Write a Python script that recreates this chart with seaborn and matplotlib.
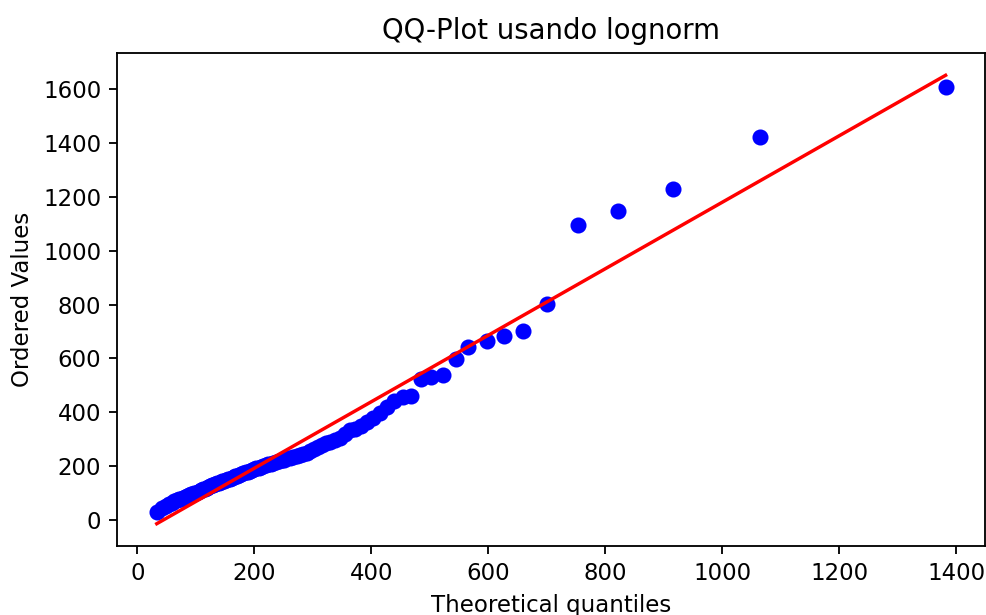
import numpy as np
import pandas as pd
import seaborn as sns
import matplotlib
matplotlib.use("Agg")
import matplotlib.pyplot as plt
from matplotlib.ticker import MultipleLocator

# cuantiles teóricos (lognorm) y valores ordenados
theoretical_quantiles = [
    33.0, 42.1, 48.8, 54.1, 58.7, 63.1, 67.0, 70.9, 74.4, 77.9,
    81.3, 84.6, 87.8, 91.0, 94.1, 97.1, 100.2, 103.2, 106.2, 109.2,
    112.2, 115.1, 118.1, 121.0, 124.0, 127.0, 130.0, 133.0, 136.0, 139.1,
    142.2, 145.2, 148.3, 151.4, 154.6, 157.8, 161.0, 164.3, 167.6, 171.0,
    174.3, 177.8, 181.3, 184.8, 188.4, 192.1, 195.8, 199.5, 203.4, 207.3,
    211.3, 215.4, 219.5, 223.8, 228.1, 232.5, 237.1, 241.7, 246.4, 251.3,
    256.3, 261.5, 266.8, 272.2, 277.8, 283.6, 289.5, 295.7, 302.0, 308.5,
    315.5, 322.6, 330.0, 337.7, 345.7, 354.1, 362.9, 372.0, 381.8, 391.9,
    402.8, 414.3, 426.4, 439.5, 453.4, 468.4, 484.8, 502.4, 521.9, 545.0,
    566.0, 597.0, 626.0, 660.0, 701.0, 754.0, 822.0, 915.0, 1065.0, 1382.0,
]
ordered_values = [
    28, 42, 52, 58, 63, 68, 72, 76, 79, 82,
    85, 88, 91, 94, 96, 99, 101, 104, 107, 110,
    113, 116, 119, 122, 125, 128, 131, 133, 136, 138,
    140, 143, 145, 148, 150, 152, 155, 158, 161, 164,
    167, 170, 173, 176, 179, 182, 185, 188, 191, 194,
    197, 200, 203, 206, 209, 212, 215, 218, 221, 224,
    228, 231, 234, 237, 240, 245, 250, 256, 262, 270,
    277, 284, 289, 295, 305, 318, 332, 338, 350, 365,
    378, 398, 420, 441, 456, 460, 522, 530, 537, 596,
    643, 665, 684, 702, 803, 1097, 1150, 1230, 1425, 1610,
]

df = pd.DataFrame({"teorico": theoretical_quantiles, "ordenado": ordered_values})

# recta de ajuste por mínimos cuadrados, como hace probplot
slope, intercept = np.polyfit(df["teorico"], df["ordenado"], 1)
x_line = np.array([df["teorico"].min(), df["teorico"].max()])
line_df = pd.DataFrame({"x": x_line, "y": slope * x_line + intercept})

fig = plt.figure(figsize=(986 / 165, 615 / 165), dpi=165)
ax = fig.add_axes([0.119, 0.112, 0.88, 0.802])

sns.scatterplot(data=df, x="teorico", y="ordenado", color="blue",
                edgecolor="blue", linewidth=1, s=36, ax=ax)
sns.lineplot(data=line_df, x="x", y="y", color="red", linewidth=1.5, ax=ax)

ax.yaxis.set_major_locator(MultipleLocator(200))
ax.set_title("QQ-Plot usando lognorm")
ax.set_xlabel("Theoretical quantiles")
ax.set_ylabel("Ordered Values")

fig.savefig("out.png", dpi=165)
